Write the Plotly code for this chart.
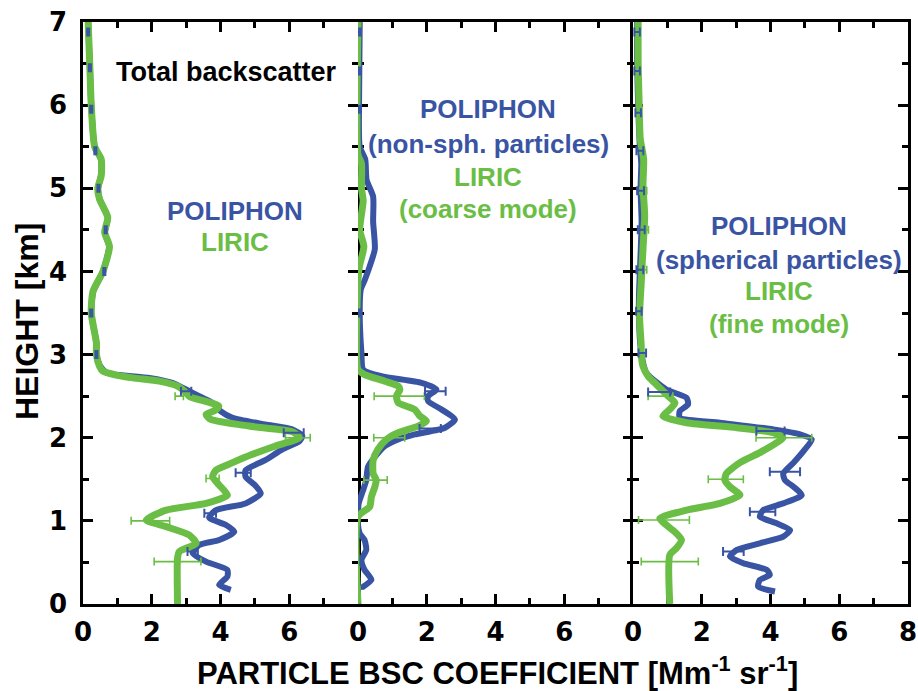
import plotly.graph_objects as go
from plotly.subplots import make_subplots

BLUE = "#3A54A4"
GREEN = "#6BBE45"

# ---------------- Panel 1: total backscatter ----------------
p1_liric_h = [7.0, 6.45, 6.0, 5.5, 5.35, 5.15, 5.0, 4.87, 4.65, 4.47, 4.3, 4.0, 3.76, 3.5, 3.14, 3.0, 2.86,
              2.8, 2.76, 2.72, 2.68, 2.62, 2.56, 2.49, 2.44, 2.38, 2.33, 2.28, 2.22, 2.14, 2.07, 2.0, 1.9,
              1.8, 1.7, 1.61, 1.53, 1.43, 1.31, 1.21, 1.13, 1.01, 0.93, 0.83, 0.73, 0.63, 0.55, 0.0]
p1_liric_b = [0.15, 0.2, 0.24, 0.34, 0.53, 0.53, 0.43, 0.48, 0.72, 0.63, 0.77, 0.58, 0.29, 0.24, 0.39, 0.39, 0.48,
              0.58, 0.9, 1.45, 2.22, 2.75, 2.95, 3.12, 3.55, 3.95, 3.85, 3.58, 3.72, 4.83, 6.1, 6.3, 5.6,
              4.93, 4.35, 3.87, 3.77, 3.96, 4.2, 3.58, 2.42, 1.84, 2.42, 3.09, 3.29, 2.8, 2.75, 2.75]

p1_poli_h = [7.0, 6.45, 6.0, 5.5, 5.35, 5.15, 5.0, 4.87, 4.65, 4.47, 4.3, 4.0, 3.76, 3.5, 3.14, 3.0, 2.86,
             2.78, 2.72, 2.66, 2.58, 2.5, 2.42, 2.32, 2.24, 2.16, 2.1, 2.02, 1.96, 1.86, 1.73, 1.61, 1.53,
             1.43, 1.33, 1.21, 1.13, 1.04, 0.95, 0.87, 0.77, 0.71, 0.61, 0.51, 0.41, 0.33, 0.23, 0.17]
p1_poli_b = [0.15, 0.2, 0.24, 0.34, 0.52, 0.52, 0.44, 0.48, 0.72, 0.64, 0.76, 0.58, 0.3, 0.24, 0.39, 0.39, 0.5,
             0.7, 1.93, 2.6, 3.0, 3.38, 3.77, 4.0, 4.35, 5.3, 6.1, 6.38, 6.3, 5.8, 5.3, 4.73, 4.73,
             5.0, 5.17, 4.73, 3.87, 3.67, 4.16, 4.4, 3.96, 3.38, 3.19, 3.58, 4.2, 4.2, 3.96, 4.3]

p1_poli_err_h = [6.88, 6.45, 5.95, 5.45, 5.0, 4.5, 4.0, 3.5, 3.0, 2.56, 2.06, 1.58, 1.09, 0.63]
p1_poli_err_b = [0.15, 0.2, 0.24, 0.36, 0.45, 0.66, 0.62, 0.24, 0.39, 3.0, 6.13, 4.66, 3.7, 3.19]
p1_poli_err_e = [0.03, 0.03, 0.03, 0.03, 0.03, 0.03, 0.03, 0.03, 0.03, 0.15, 0.29, 0.22, 0.17, 0.15]

p1_liric_err_h = [2.5, 2.0, 1.51, 1.0, 0.51]
p1_liric_err_b = [2.8, 6.25, 3.77, 1.96, 2.75]
p1_liric_err_e = [0.12, 0.36, 0.19, 0.56, 0.68]

# ---------------- Panel 2: non-spherical / coarse mode ----------------
p2_poli_h = [7.0, 6.0, 5.5, 5.35, 5.1, 4.9, 4.6, 4.27, 4.06, 3.9, 3.78, 3.5, 3.02, 2.82, 2.74, 2.66, 2.58,
             2.5, 2.44, 2.34, 2.22, 2.12, 2.04, 1.98, 1.9, 1.77, 1.65, 1.49, 1.37, 1.21, 1.09, 0.95, 0.85,
             0.77, 0.65, 0.53, 0.41, 0.29, 0.19, 0.17]
p2_poli_b = [0.05, 0.03, 0.05, 0.21, 0.25, 0.44, 0.44, 0.49, 0.34, 0.2, 0.08, 0.05, 0.1, 0.15, 0.68, 1.85, 2.28,
             2.04, 2.04, 2.43, 2.82, 2.53, 1.65, 1.17, 0.78, 0.49, 0.29, 0.24, 0.15, 0.02, 0.0, 0.0, 0.05,
             0.19, 0.24, 0.1, 0.19, 0.39, 0.1, 0.1]

p2_liric_h = [7.0, 5.4, 5.3, 5.0, 4.85, 4.5, 4.3, 4.06, 3.9, 2.82, 2.76, 2.68, 2.62, 2.58, 2.5, 2.42, 2.34,
              2.26, 2.2, 2.14, 2.06, 1.98, 1.86, 1.73, 1.57, 1.49, 1.41, 1.29, 1.17, 1.05, 0.0]
p2_liric_b = [0.0, 0.0, 0.1, 0.1, 0.15, 0.05, 0.17, 0.04, 0.0, 0.0, 0.19, 0.78, 1.17, 1.22, 1.12, 1.17, 1.65,
              1.8, 1.99, 1.75, 1.17, 0.83, 0.58, 0.44, 0.44, 0.53, 0.49, 0.39, 0.34, 0.0, 0.0]

p2_poli_err_h = [6.88, 6.41, 5.95, 3.5, 2.56, 2.11, 0.51]
p2_poli_err_b = [0.05, 0.05, 0.03, 0.05, 2.25, 2.1, 0.1]
p2_poli_err_e = [0.03, 0.03, 0.03, 0.03, 0.3, 0.31, 0.03]

p2_liric_err_h = [2.5, 2.0, 1.49]
p2_liric_err_b = [1.2, 0.91, 0.51]
p2_liric_err_e = [0.73, 0.45, 0.34]

# ---------------- Panel 3: spherical / fine mode ----------------
p3_poli_h = [7.0, 6.5, 6.0, 5.5, 5.3, 5.0, 4.6, 4.2, 3.8, 3.5, 3.02, 2.78, 2.58, 2.48, 2.4, 2.32, 2.24,
             2.18, 2.1, 2.04, 1.98, 1.86, 1.7, 1.57, 1.49, 1.41, 1.31, 1.21, 1.13, 1.05, 0.97, 0.89, 0.81,
             0.73, 0.65, 0.57, 0.49, 0.41, 0.35, 0.29, 0.21, 0.15]
p3_poli_b = [0.12, 0.12, 0.15, 0.2, 0.24, 0.22, 0.25, 0.22, 0.18, 0.17, 0.24, 0.39, 0.97, 1.56, 1.6, 1.36, 1.36,
             2.53, 4.08, 4.86, 5.2, 5.0, 4.67, 4.37, 4.42, 4.67, 4.91, 4.37, 3.79, 3.69, 4.18, 4.57, 4.37,
             3.69, 3.02, 2.82, 3.21, 3.89, 3.98, 3.69, 3.64, 4.13]

p3_liric_h = [7.0, 6.5, 6.0, 5.6, 5.35, 5.03, 4.67, 4.27, 3.87, 3.46, 3.1, 3.02, 2.86, 2.74, 2.66, 2.58, 2.5,
              2.42, 2.34, 2.26, 2.18, 2.12, 2.06, 2.0, 1.94, 1.82, 1.7, 1.57, 1.49, 1.41, 1.31, 1.21, 1.13,
              1.03, 0.95, 0.85, 0.77, 0.67, 0.59, 0.0]
p3_liric_b = [0.15, 0.15, 0.18, 0.21, 0.31, 0.29, 0.34, 0.29, 0.24, 0.19, 0.24, 0.24, 0.29, 0.44, 0.63, 0.83, 1.02,
              1.22, 1.07, 0.87, 1.56, 3.02, 4.08, 4.37, 4.18, 3.69, 3.11, 2.72, 2.67, 2.82, 3.11, 2.53, 1.56,
              0.78, 0.97, 1.26, 1.41, 1.26, 1.07, 1.07]

p3_poli_err_h = [6.88, 6.41, 5.91, 5.45, 4.97, 4.5, 4.02, 3.52, 3.02, 2.55, 2.08, 1.59, 1.11, 0.63]
p3_poli_err_b = [0.12, 0.12, 0.15, 0.2, 0.22, 0.24, 0.2, 0.17, 0.27, 0.76, 4.0, 4.42, 3.77, 2.92]
p3_poli_err_e = [0.08, 0.08, 0.08, 0.1, 0.1, 0.1, 0.1, 0.08, 0.11, 0.32, 0.41, 0.44, 0.37, 0.3]

p3_liric_err_h = [4.97, 4.5, 4.02, 2.5, 2.0, 1.5, 1.01, 0.51]
p3_liric_err_b = [0.3, 0.35, 0.3, 0.8, 4.39, 2.7, 0.9, 1.07]
p3_liric_err_e = [0.1, 0.1, 0.1, 0.36, 0.81, 0.51, 0.74, 0.83]

x_ticks_12 = [0, 2, 4, 6]
x_ticks_3 = [0, 2, 4, 6, 8]
x_minor = [1, 3, 5, 7]
y_ticks = [0, 1, 2, 3, 4, 5, 6, 7]
y_minor = [0.5, 1.5, 2.5, 3.5, 4.5, 5.5, 6.5]

panels = [
    (p1_poli_b, p1_poli_h, p1_liric_b, p1_liric_h,
     (p1_poli_err_b, p1_poli_err_h, p1_poli_err_e), (p1_liric_err_b, p1_liric_err_h, p1_liric_err_e)),
    (p2_poli_b, p2_poli_h, p2_liric_b, p2_liric_h,
     (p2_poli_err_b, p2_poli_err_h, p2_poli_err_e), (p2_liric_err_b, p2_liric_err_h, p2_liric_err_e)),
    (p3_poli_b, p3_poli_h, p3_liric_b, p3_liric_h,
     (p3_poli_err_b, p3_poli_err_h, p3_poli_err_e), (p3_liric_err_b, p3_liric_err_h, p3_liric_err_e)),
]

fig = make_subplots(rows=1, cols=3, shared_yaxes=True, horizontal_spacing=0)

for i, (pb, ph, lb, lh, perr, lerr) in enumerate(panels, start=1):
    fig.add_trace(go.Scatter(x=pb, y=ph, mode="lines",
                             line=dict(color=BLUE, width=6, shape="spline", smoothing=0.6),
                             showlegend=False), row=1, col=i)
    fig.add_trace(go.Scatter(x=lb, y=lh, mode="lines",
                             line=dict(color=GREEN, width=7, shape="spline", smoothing=0.6),
                             showlegend=False), row=1, col=i)
    fig.add_trace(go.Scatter(x=lerr[0], y=lerr[1], mode="markers",
                             marker=dict(size=1, color="rgba(0,0,0,0)"),
                             error_x=dict(type="data", array=lerr[2], color=GREEN, thickness=1.6, width=4),
                             showlegend=False), row=1, col=i)
    fig.add_trace(go.Scatter(x=perr[0], y=perr[1], mode="markers",
                             marker=dict(size=1, color="rgba(0,0,0,0)"),
                             error_x=dict(type="data", array=perr[2], color=BLUE, thickness=2, width=4.5),
                             showlegend=False), row=1, col=i)

tickfont = dict(family="DejaVu Sans", size=26, color="black", weight="bold")
axis_common = dict(linecolor="black", linewidth=2.5, mirror="ticks",
                   ticks="inside", ticklen=10, tickwidth=2.5, tickcolor="black",
                   showgrid=False, zeroline=False, tickfont=tickfont, layer="below traces",
                   automargin=False)

for i in range(1, 4):
    tv = x_ticks_3 if i == 3 else x_ticks_12
    fig.update_xaxes(range=[0, 8], tickmode="array", tickvals=tv, ticktext=[str(v) for v in tv],
                     minor=dict(tickmode="array", tickvals=x_minor, ticks="inside", ticklen=6,
                                tickwidth=2.5, tickcolor="black"),
                     ticklabelstandoff=3, showline=True,
                     **axis_common, row=1, col=i)
    fig.update_yaxes(range=[0, 7], tickmode="array", tickvals=y_ticks,
                     minor=dict(tickmode="array", tickvals=y_minor, ticks="inside", ticklen=6,
                                tickwidth=2.5, tickcolor="black"),
                     ticklabelstandoff=8, showticklabels=(i == 1), showline=(i != 2),
                     **axis_common, row=1, col=i)

annots = [
    ("x", 4.17, 6.4, "Total backscatter", "black", 27),
    ("x", 4.43, 4.73, "POLIPHON", BLUE, 26),
    ("x", 4.43, 4.35, "LIRIC", GREEN, 26),
    ("x2", 3.79, 5.95, "POLIPHON", BLUE, 26),
    ("x2", 3.79, 5.53, "(non-sph. particles)", BLUE, 26),
    ("x2", 3.79, 5.13, "LIRIC", GREEN, 26),
    ("x2", 3.79, 4.75, "(coarse mode)", GREEN, 26),
    ("x3", 4.25, 4.55, "POLIPHON", BLUE, 26),
    ("x3", 4.25, 4.14, "(spherical particles)", BLUE, 26),
    ("x3", 4.25, 3.76, "LIRIC", GREEN, 26),
    ("x3", 4.25, 3.37, "(fine mode)", GREEN, 26),
]
for xref, x, y, txt, col, sz in annots:
    fig.add_annotation(xref=xref, yref="y", x=x, y=y, text=txt, showarrow=False,
                       xanchor="center", yanchor="middle",
                       font=dict(family="Liberation Sans", size=sz, weight="bold", color=col))

fig.add_annotation(xref="paper", yref="paper", x=-0.068, y=0.486, text="HEIGHT [km]",
                   textangle=-90, showarrow=False, xanchor="center", yanchor="middle",
                   font=dict(family="Liberation Sans", size=32, weight="bold", color="black"))
fig.add_annotation(xref="paper", yref="paper", x=0.502, y=-0.115,
                   text="PARTICLE BSC COEFFICIENT [Mm<sup>-1</sup> sr<sup>-1</sup>]",
                   showarrow=False, xanchor="center", yanchor="middle",
                   font=dict(family="Liberation Sans", size=31, weight="bold", color="black"))

fig.update_layout(width=918, height=691, margin=dict(l=83, r=10, t=22, b=87),
                  plot_bgcolor="white", paper_bgcolor="white", showlegend=False)

fig.write_html("out.html", config={"displayModeBar": False},
               post_script="document.body.style.margin='0';document.body.style.overflow='hidden';")
